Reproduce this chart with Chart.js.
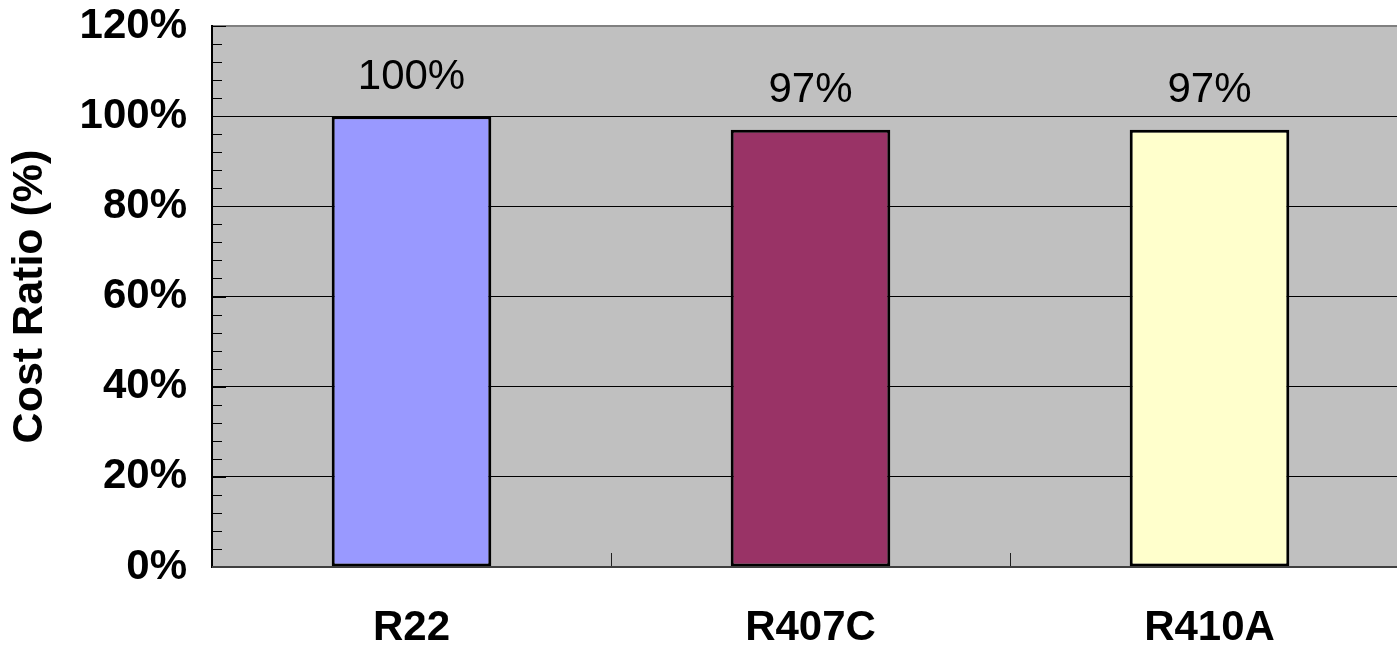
<!DOCTYPE html>
<html>
<head>
<meta charset="utf-8">
<title>Cost Ratio</title>
<script src="https://cdn.jsdelivr.net/npm/chart.js@4/dist/chart.umd.min.js"></script>
<style>
  html, body { margin: 0; padding: 0; background: #ffffff; overflow: hidden; }
  #wrap { width: 1409px; height: 646px; }
</style>
</head>
<body>
<div id="wrap"><canvas id="chart" width="1409" height="646"></canvas></div>
<script>
// Refrigerant cost ratios relative to R22
const categories = ['R22', 'R407C', 'R410A'];
const costRatio = [100, 97, 97];
const barColors = ['#9999FF', '#993366', '#FFFFCC'];
const yTicks = [0, 20, 40, 60, 80, 100, 120];

const FONT = '"Liberation Sans", Arial, Helvetica, sans-serif';

// Grey plot background
const plotBackground = {
  id: 'plotBackground',
  beforeDraw(chart) {
    const { ctx, chartArea: a } = chart;
    ctx.save();
    ctx.fillStyle = '#C0C0C0';
    ctx.fillRect(a.left, a.top, a.right - a.left, a.bottom - a.top);
    ctx.restore();
  }
};

// Inward tick marks on both axes
const axisMarks = {
  id: 'axisMarks',
  afterDraw(chart) {
    const { ctx, chartArea: a, scales } = chart;
    const y = scales.y, x = scales.x;
    ctx.save();
    ctx.strokeStyle = '#000000';
    ctx.lineWidth = 1;
    // minor ticks every 4% on the value axis
    for (let v = 0; v <= 120; v += 4) {
      const py = Math.round(y.getPixelForValue(v)) + 0.5;
      const len = v % 20 === 0 ? 14 : 10;
      ctx.beginPath();
      ctx.moveTo(a.left, py);
      ctx.lineTo(a.left + len, py);
      ctx.stroke();
    }
    // category boundary ticks
    ctx.strokeStyle = '#202020';
    for (let i = 1; i < categories.length; i++) {
      const px = Math.round((x.getPixelForValue(i - 1) + x.getPixelForValue(i)) / 2) + 0.5;
      ctx.beginPath();
      ctx.moveTo(px, a.bottom);
      ctx.lineTo(px, a.bottom - 14);
      ctx.stroke();
    }
    // bottom axis line
    ctx.strokeStyle = '#404040';
    ctx.lineWidth = 2;
    ctx.beginPath();
    ctx.moveTo(a.left, a.bottom);
    ctx.lineTo(a.right, a.bottom);
    ctx.stroke();
    ctx.restore();
  }
};

// Value labels above each bar
const valueLabels = {
  id: 'valueLabels',
  afterDatasetsDraw(chart) {
    const { ctx } = chart;
    const meta = chart.getDatasetMeta(0);
    ctx.save();
    ctx.fillStyle = '#000000';
    ctx.font = '42px ' + FONT;
    ctx.textAlign = 'center';
    ctx.textBaseline = 'middle';
    meta.data.forEach((bar, i) => {
      ctx.fillText(costRatio[i] + '%', bar.x, bar.y - 39);
    });
    ctx.restore();
  }
};

new Chart(document.getElementById('chart'), {
  type: 'bar',
  data: {
    labels: categories,
    datasets: [{
      data: costRatio,
      backgroundColor: barColors,
      borderColor: '#000000',
      borderWidth: 3,
      borderSkipped: false,
      barPercentage: 0.4,
      categoryPercentage: 1.0
    }]
  },
  options: {
    responsive: false,
    animation: false,
    events: [],
    layout: { padding: { top: 26, left: 0, right: 0, bottom: 0 } },
    plugins: {
      legend: { display: false },
      tooltip: { enabled: false }
    },
    scales: {
      x: {
        grid: { display: false, drawTicks: false },
        border: { display: false },
        ticks: {
          color: '#000000',
          padding: 40,
          font: { family: FONT, size: 42, weight: 'bold', lineHeight: 1 }
        },
        afterFit(scale) { scale.height = 79; scale.paddingRight = 0; scale.paddingLeft = 0; }
      },
      y: {
        min: 0,
        max: 120,
        afterBuildTicks(scale) { scale.ticks = yTicks.map(v => ({ value: v })); },
        grid: {
          drawTicks: false,
          color: ctx => {
            const v = ctx.tick && ctx.tick.value;
            if (v === 0) return 'rgba(0,0,0,0)';
            if (v === 120) return '#808080';
            return '#000000';
          },
          lineWidth: ctx => (ctx.tick && ctx.tick.value === 120) ? 2 : 1
        },
        border: { display: true, color: '#000000', width: 2 },
        ticks: {
          color: '#000000',
          padding: 25,
          font: { family: FONT, size: 42, weight: 'bold', lineHeight: 1 },
          callback: v => v + '%'
        },
        title: {
          display: true,
          text: 'Cost Ratio (%)',
          color: '#000000',
          padding: { top: 9, bottom: 0 },
          font: { family: FONT, size: 43, weight: 'bold', lineHeight: 1 }
        },
        afterFit(scale) { scale.width = 212; scale.paddingTop = 0; scale.paddingBottom = 0; }
      }
    }
  },
  plugins: [plotBackground, axisMarks, valueLabels]
});
</script>
</body>
</html>
